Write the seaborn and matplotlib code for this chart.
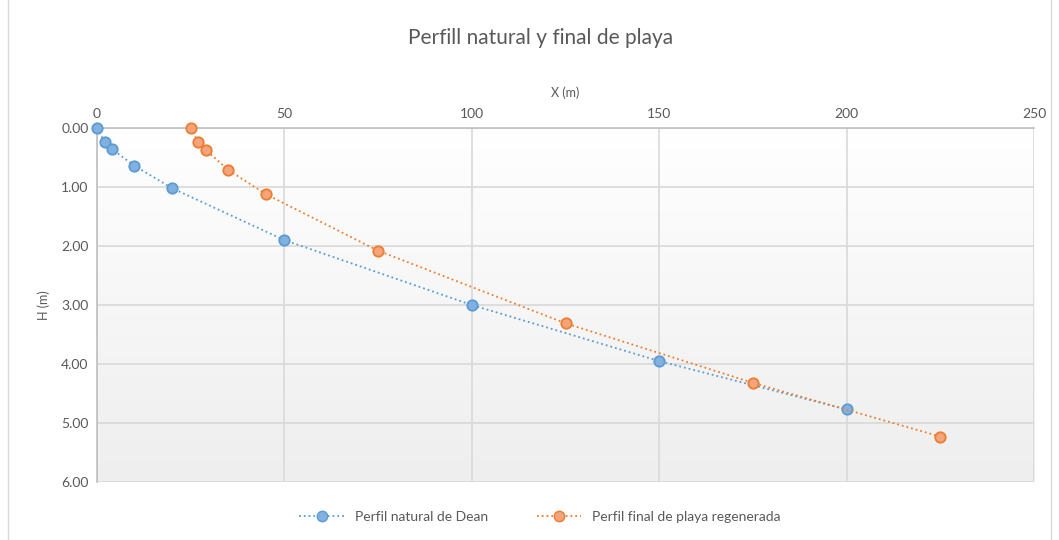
import numpy as np
import pandas as pd
import seaborn as sns
import matplotlib.pyplot as plt
from matplotlib.lines import Line2D
from matplotlib.patches import Rectangle

sns.set_theme(style="white")
plt.rcParams['font.family'] = ['Lato', 'DejaVu Sans']

# natural Dean profile
dean_x = [0, 2, 4, 10, 20, 50, 100, 150, 200]
dean_h = [0.00, 0.23, 0.36, 0.64, 1.02, 1.90, 3.00, 3.95, 4.77]

# regenerated beach profile
final_x = [25, 27, 29, 35, 45, 75, 125, 175, 225]
final_h = [0.00, 0.24, 0.37, 0.71, 1.12, 2.08, 3.31, 4.32, 5.23]

x_ticks = [0, 50, 100, 150, 200, 250]
y_ticks = [0, 1, 2, 3, 4, 5, 6]

blue, blue_face = '#5b9bd5', '#82b1e0'
orange, orange_face = '#ed7d31', '#f4a47a'
txt = '#595959'

dean = pd.DataFrame({'x': dean_x, 'h': dean_h})
final = pd.DataFrame({'x': final_x, 'h': final_h})

fig = plt.figure(figsize=(10.59, 5.40), dpi=100)
ax = fig.add_axes([0.0916, 0.1074, 0.8848, 0.6556])

# chart border
fig.patches.append(Rectangle((0.0075, -0.01), 0.985, 1.02, transform=fig.transFigure,
                             fill=False, edgecolor='#d9d9d9', lw=1))

# gradient background of the plot area
grad = np.linspace(1, 0, 256).reshape(-1, 1)
ax.imshow(grad, cmap=plt.cm.colors.LinearSegmentedColormap.from_list('g', ['#eeeeee', '#ffffff']),
          extent=[0, 1, 0, 1], transform=ax.transAxes, aspect='auto', zorder=0)

for df, c, fc in [(dean, blue, blue_face), (final, orange, orange_face)]:
    sns.lineplot(data=df, x='x', y='h', ax=ax, color=c, linestyle=':', lw=1.3,
                 marker='o', markersize=7.5, markerfacecolor=fc,
                 markeredgecolor=c, markeredgewidth=1.3, zorder=3, clip_on=False)

ax.set_xlim(0, 250)
ax.set_ylim(6, 0)
ax.set_xticks(x_ticks)
ax.set_yticks(y_ticks)
ax.set_yticklabels([f'{v:.2f}' for v in y_ticks])
ax.xaxis.tick_top()
ax.xaxis.set_label_position('top')
ax.tick_params(axis='both', length=0, labelsize=10, colors=txt, pad=6)
ax.grid(True, color='#d9d9d9', lw=1.2)
ax.set_axisbelow(True)
for s in ['right', 'bottom']:
    ax.spines[s].set_visible(False)
for s in ['left', 'top']:
    ax.spines[s].set_color('#bfbfbf')
    ax.spines[s].set_linewidth(1.2)
    ax.spines[s].set_zorder(2)

ax.set_xlabel('X (m)', fontsize=9, color=txt, labelpad=8)
ax.set_ylabel('H (m)', fontsize=9, color=txt, labelpad=8)
fig.text(0.51, 0.93, 'Perfill natural y final de playa', ha='center', va='center',
         fontsize=15, color=txt)

handles = [
    Line2D([], [], color=blue, linestyle=':', lw=1.3, marker='o', markersize=7.5,
           markerfacecolor=blue_face, markeredgecolor=blue),
    Line2D([], [], color=orange, linestyle=':', lw=1.3, marker='o', markersize=7.5,
           markerfacecolor=orange_face, markeredgecolor=orange),
]
fig.legend(handles, ['Perfil natural de Dean', 'Perfil final de playa regenerada'],
           loc='center', bbox_to_anchor=(0.51, 0.043), ncol=2, frameon=False,
           fontsize=10, labelcolor=txt, handlelength=3.2, columnspacing=3.5)

plt.savefig('out.png', dpi=100)
